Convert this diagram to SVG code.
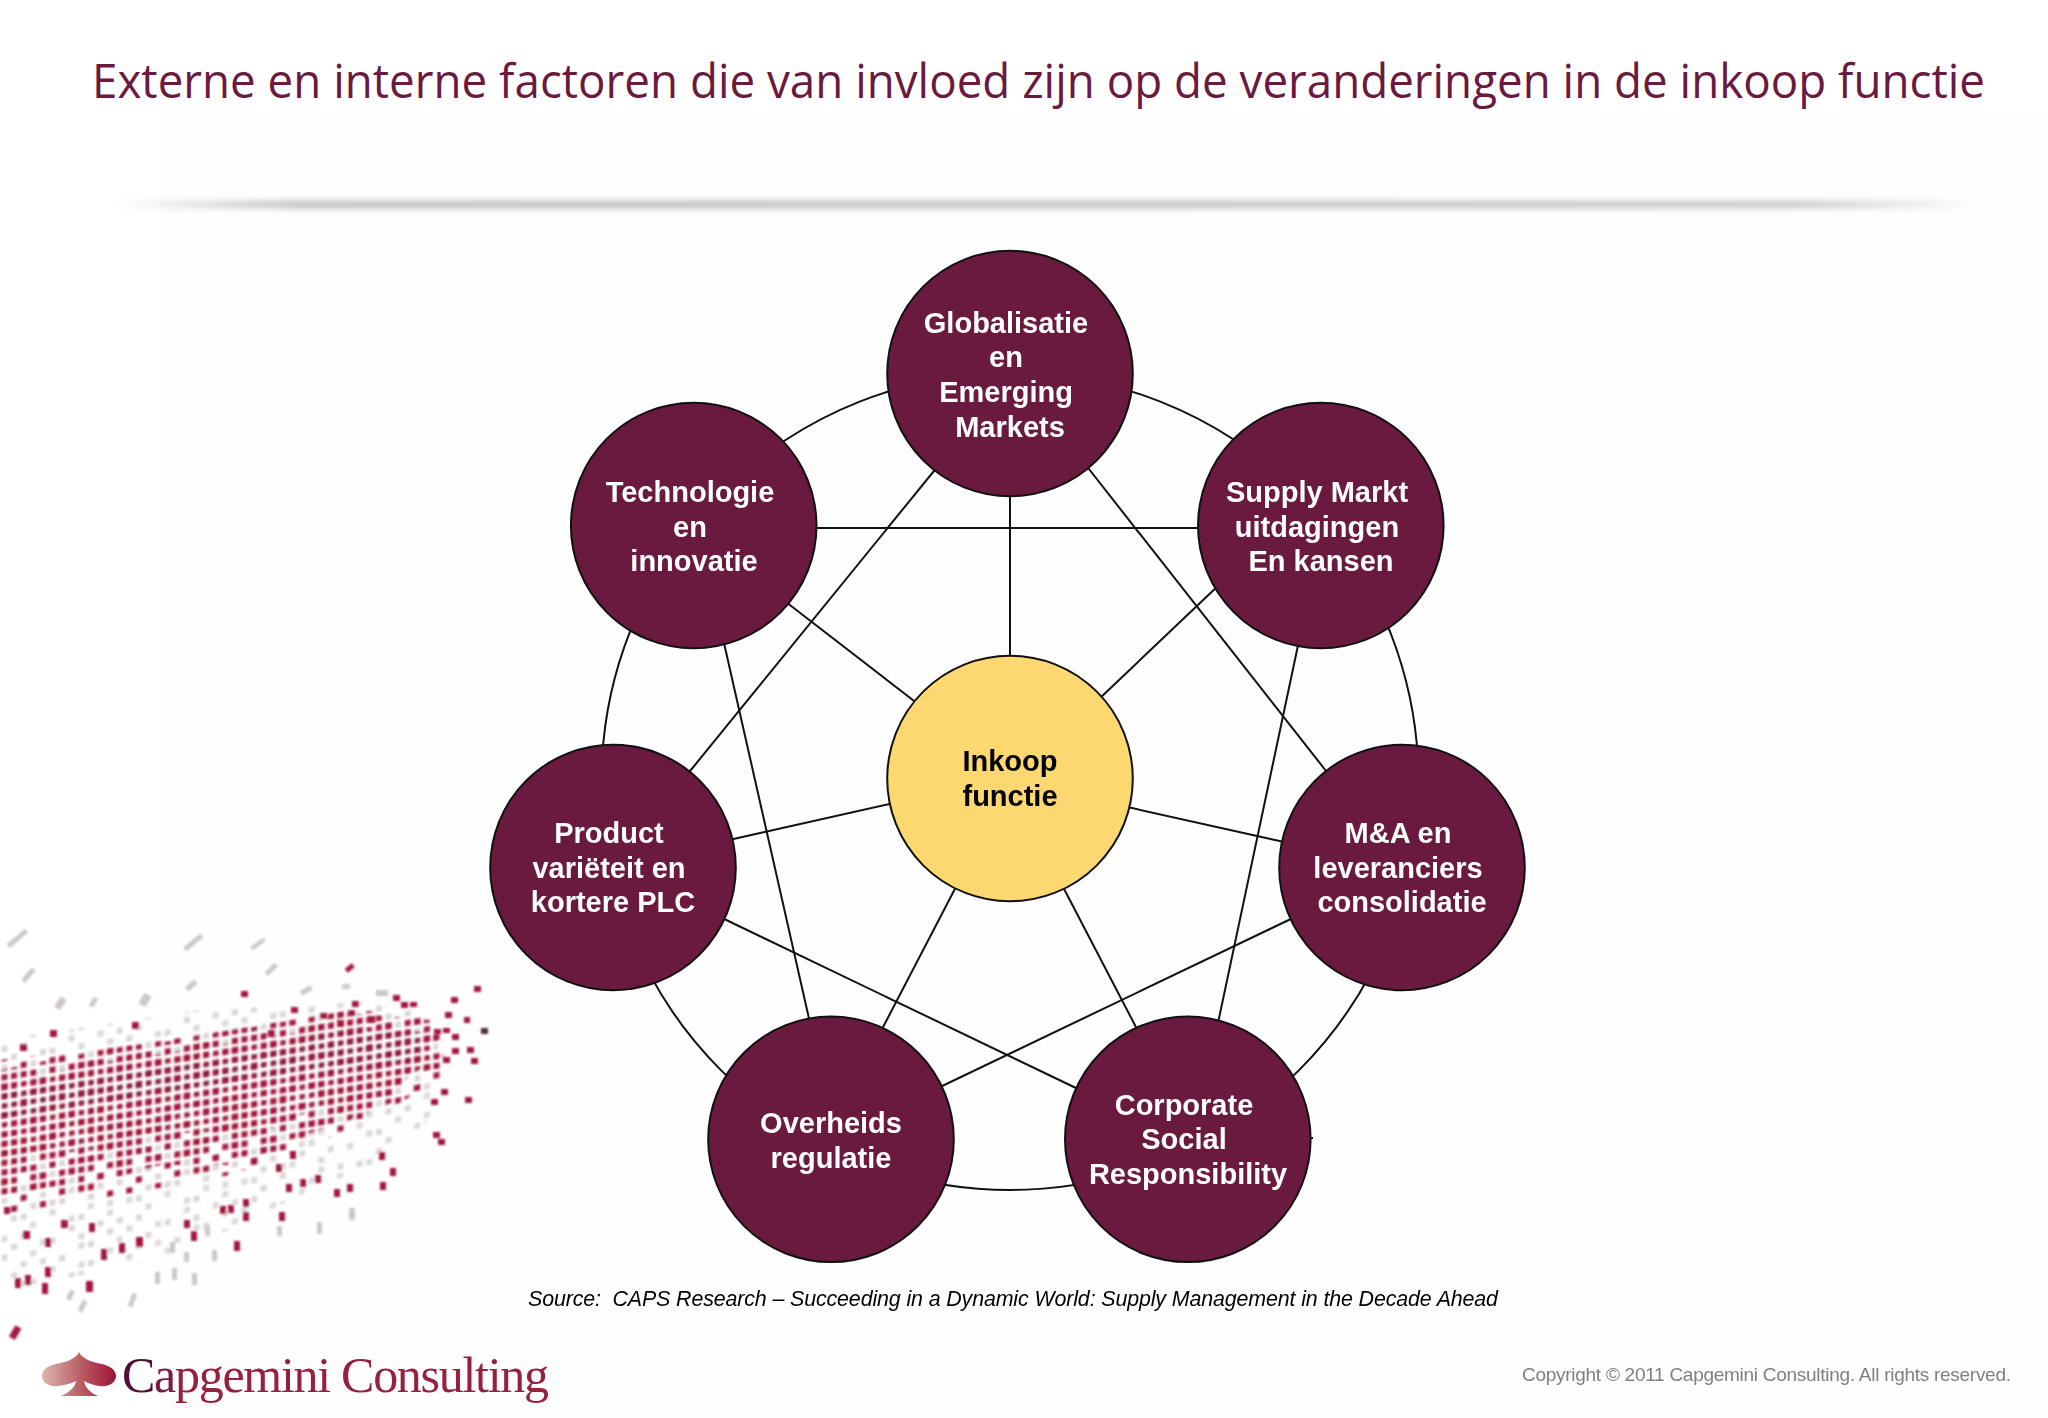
<svg xmlns="http://www.w3.org/2000/svg" width="2048" height="1418" viewBox="0 0 2048 1418">
<style>
.c{fill:#6a1a3e;stroke:#111;stroke-width:2}
.m{fill:#fdd76f;stroke:#111;stroke-width:2}
.n{font:bold 29px "Liberation Sans",Arial,sans-serif;fill:#fff;text-anchor:middle}
.k{fill:#000}
#conn line,#conn circle{stroke:#111;stroke-width:2;fill:none}
.r{fill:#a3183f}
.g{fill:#cdc8cb}
</style>
<defs>
<pattern id="pr" width="9.6" height="9.5" patternUnits="userSpaceOnUse" patternTransform="skewY(-9)"><rect x="1.8" y="1.8" width="5.6" height="5.4" rx="1" fill="#a3183f"/></pattern>
<pattern id="pd" width="9.6" height="9.5" patternUnits="userSpaceOnUse" patternTransform="skewY(-9)"><rect x="1.8" y="1.8" width="5.6" height="5.4" rx="1" fill="#4f2a52"/></pattern>
<pattern id="sr" width="115.2" height="95" patternUnits="userSpaceOnUse" patternTransform="skewY(-9)"><path fill="#a3183f" d="M11.1 1.5h6v6h-6zM39.9 1.5h6v6h-6zM49.5 1.5h6v6h-6zM87.9 1.5h6v6h-6zM1.5 11h6v6h-6zM30.3 11h6v6h-6zM68.7 11h6v6h-6zM97.5 11h6v6h-6zM20.7 20.5h6v6h-6zM49.5 20.5h6v6h-6zM59.1 20.5h6v6h-6zM107.1 20.5h6v6h-6zM11.1 30h6v6h-6zM78.3 30h6v6h-6zM87.9 30h6v6h-6zM30.3 39.5h6v6h-6zM39.9 39.5h6v6h-6zM68.7 39.5h6v6h-6zM107.1 39.5h6v6h-6zM1.5 49h6v6h-6zM49.5 49h6v6h-6zM97.5 49h6v6h-6zM20.7 58.5h6v6h-6zM59.1 58.5h6v6h-6zM78.3 58.5h6v6h-6zM87.9 58.5h6v6h-6zM11.1 68h6v6h-6zM39.9 68h6v6h-6zM107.1 68h6v6h-6zM30.3 77.5h6v6h-6zM68.7 77.5h6v6h-6zM97.5 77.5h6v6h-6zM1.5 87h6v6h-6zM49.5 87h6v6h-6zM59.1 87h6v6h-6zM87.9 87h6v6h-6z"/></pattern>
<pattern id="sr2" href="#sr" patternTransform="skewY(-9) translate(28.8 38)"/>
<pattern id="sr3" href="#sr" patternTransform="skewY(-9) translate(67.2 19)"/>
<pattern id="sg2" width="115.2" height="95" patternUnits="userSpaceOnUse" patternTransform="skewY(-9)"><path fill="#dcd7da" d="M1.5 1.5h6v6h-6zM20.7 1.5h6v6h-6zM68.7 1.5h6v6h-6zM97.5 1.5h6v6h-6zM11.1 11h6v6h-6zM39.9 11h6v6h-6zM49.5 11h6v6h-6zM78.3 11h6v6h-6zM107.1 11h6v6h-6zM1.5 20.5h6v6h-6zM30.3 20.5h6v6h-6zM78.3 20.5h6v6h-6zM87.9 20.5h6v6h-6zM20.7 30h6v6h-6zM39.9 30h6v6h-6zM59.1 30h6v6h-6zM107.1 30h6v6h-6zM11.1 39.5h6v6h-6zM49.5 39.5h6v6h-6zM78.3 39.5h6v6h-6zM87.9 39.5h6v6h-6zM20.7 49h6v6h-6zM30.3 49h6v6h-6zM68.7 49h6v6h-6zM78.3 49h6v6h-6zM1.5 58.5h6v6h-6zM39.9 58.5h6v6h-6zM68.7 58.5h6v6h-6zM97.5 58.5h6v6h-6zM30.3 68h6v6h-6zM49.5 68h6v6h-6zM59.1 68h6v6h-6zM87.9 68h6v6h-6zM11.1 77.5h6v6h-6zM20.7 77.5h6v6h-6zM49.5 77.5h6v6h-6zM87.9 77.5h6v6h-6zM107.1 77.5h6v6h-6zM30.3 87h6v6h-6zM68.7 87h6v6h-6zM78.3 87h6v6h-6zM107.1 87h6v6h-6z"/></pattern>
<filter id="blur" x="-5%" y="-5%" width="110%" height="110%"><feGaussianBlur stdDeviation="0.9"/></filter>
<filter id="sh" x="-5%" y="-500%" width="110%" height="1100%"><feGaussianBlur stdDeviation="3.5"/></filter>
<linearGradient id="sg" x1="0" x2="1" y1="0" y2="0"><stop offset="0" stop-color="#dcb4ae"/><stop offset=".55" stop-color="#b85a62"/><stop offset="1" stop-color="#9c1238"/></linearGradient>
<linearGradient id="dg" x1="0" x2="1" y1="0" y2="0"><stop offset="0" stop-color="#999" stop-opacity="0"/><stop offset=".1" stop-color="#999"/><stop offset=".9" stop-color="#aaa"/><stop offset="1" stop-color="#aaa" stop-opacity="0"/></linearGradient>
</defs>
<rect width="2048" height="1418" fill="#fff"/>
<rect x="160" y="110" width="1888" height="1308" fill="#fefefe"/>
<g id="title"><text x="92" y="98" textLength="1893" lengthAdjust="spacingAndGlyphs" font-family="'Open Sans','Noto Sans',sans-serif" font-size="47" fill="#6a1a3e">Externe en interne factoren die van invloed zijn op de veranderingen in de inkoop functie</text></g>
<rect id="divider" x="118" y="202" width="1860" height="5" fill="url(#dg)" filter="url(#sh)"/>
<g id="dots" filter="url(#blur)">
<polygon points="0,1040 200,1010 400,1000 440,1030 430,1120 370,1165 300,1195 230,1230 150,1260 60,1280 0,1290" fill="url(#sg2)"/>
<polygon points="0,1060 180,1040 350,1010 440,1015 445,1075 380,1115 300,1150 230,1175 120,1195 0,1215" fill="url(#sr)"/>
<polygon points="0,1070 100,1050 200,1035 340,1012 430,1020 445,1060 410,1095 350,1120 290,1140 270,1165 160,1165 90,1185 0,1195" fill="url(#sr2)"/>
<polygon points="0,1070 100,1050 200,1035 340,1012 430,1020 445,1060 410,1095 350,1120 290,1140 270,1165 160,1165 90,1185 0,1195" fill="url(#sr3)"/>
<polygon points="0,1083 96,1063 192,1049 346,1025 423,1032 435,1059 400,1083 346,1103 292,1117 269,1130 154,1134 96,1150 0,1158" fill="url(#pr)"/>
<polygon points="0,1092 120,1070 230,1060 345,1030 420,1035 420,1060 330,1072 230,1082 120,1098 0,1118" fill="url(#pd)" opacity=".3"/>
<g class="r">
<rect x="345" y="966" width="9" height="5" transform="rotate(-40 349 968)"/><rect x="241" y="991" width="7" height="6"/><rect x="474" y="986" width="7" height="6"/><rect x="451" y="997" width="7" height="6"/><rect x="393" y="995" width="7" height="6"/><rect x="401" y="1002" width="7" height="6"/><rect x="410" y="1002" width="7" height="5"/><rect x="352" y="1001" width="7" height="6"/><rect x="291" y="1007" width="7" height="6"/><rect x="348" y="1010" width="7" height="6"/><rect x="320" y="1013" width="7" height="6"/><rect x="445" y="1012" width="7" height="6"/><rect x="464" y="1017" width="6" height="6"/><rect x="434" y="1029" width="7" height="5"/><rect x="443" y="1028" width="7" height="5"/><rect x="452" y="1034" width="7" height="6"/><rect x="467" y="1047" width="7" height="6"/><rect x="452" y="1048" width="7" height="6"/><rect x="471" y="1058" width="7" height="6"/><rect x="443" y="1057" width="7" height="6"/><rect x="441" y="1089" width="7" height="6"/><rect x="431" y="1099" width="7" height="6"/><rect x="465" y="1097" width="7" height="6"/><rect x="433" y="1132" width="7" height="6"/><rect x="438" y="1139" width="7" height="6"/><rect x="379" y="1152" width="6" height="8"/><rect x="390" y="1168" width="6" height="8"/><rect x="380" y="1182" width="6" height="8"/><rect x="347" y="1184" width="6" height="8"/><rect x="334" y="1189" width="6" height="8"/><rect x="315" y="1175" width="6" height="8"/><rect x="300" y="1179" width="6" height="8"/><rect x="286" y="1184" width="6" height="8"/><rect x="290" y="1151" width="6" height="8"/><rect x="276" y="1164" width="6" height="8"/><rect x="279" y="1212" width="6" height="9"/><rect x="243" y="1199" width="6" height="8"/><rect x="243" y="1212" width="6" height="9"/><rect x="228" y="1205" width="6" height="8"/><rect x="220" y="1206" width="6" height="8"/><rect x="234" y="1241" width="6" height="10"/><rect x="191" y="1231" width="6" height="10"/><rect x="184" y="1220" width="6" height="8"/><rect x="136" y="1237" width="7" height="10"/><rect x="119" y="1243" width="6" height="10"/><rect x="101" y="1249" width="6" height="11"/><rect x="89" y="1223" width="6" height="9"/><rect x="61" y="1220" width="7" height="8"/><rect x="45" y="1238" width="6" height="9"/><rect x="23" y="1231" width="7" height="8"/><rect x="45" y="1267" width="6" height="10"/><rect x="42" y="1283" width="6" height="11"/><rect x="86" y="1281" width="7" height="11"/><rect x="25" y="1275" width="6" height="10"/><rect x="15" y="1278" width="6" height="10"/><rect x="12" y="1326" width="7" height="13" transform="rotate(30 15 1332)"/><rect x="4" y="1207" width="6" height="7"/><rect x="50" y="1030" width="7" height="7"/><rect x="132" y="1022" width="7" height="7"/><rect x="20" y="1044" width="7" height="7"/><rect x="268" y="1030" width="7" height="7"/><rect x="337" y="1020" width="7" height="7"/><rect x="368" y="1016" width="7" height="7"/>
<rect x="481" y="1028" width="7" height="6" fill="#4f2a42"/>
</g>
<g class="g">
<rect x="5" y="936" width="24" height="5" transform="rotate(-40 17 938)"/><rect x="182" y="940" width="22" height="5" transform="rotate(-40 193 942)"/><rect x="250" y="942" width="16" height="4" transform="rotate(-35 258 944)"/><rect x="264" y="967" width="14" height="5" transform="rotate(-45 271 969)"/><rect x="20" y="973" width="16" height="5" transform="rotate(-50 28 975)"/><rect x="185" y="983" width="12" height="5" transform="rotate(-40 191 985)"/><rect x="300" y="988" width="12" height="5" transform="rotate(-30 306 990)"/><rect x="54" y="1000" width="12" height="7" transform="rotate(-55 60 1003)"/><rect x="88" y="1000" width="10" height="5" transform="rotate(-60 93 1002)"/><rect x="139" y="996" width="12" height="8" transform="rotate(-60 145 1000)"/><rect x="376" y="990" width="12" height="6"/><rect x="342" y="984" width="8" height="5"/><rect x="349" y="1208" width="6" height="12"/><rect x="317" y="1222" width="5" height="12"/><rect x="277" y="1226" width="5" height="10"/><rect x="205" y="1226" width="5" height="10"/><rect x="170" y="1242" width="5" height="11"/><rect x="212" y="1250" width="5" height="11"/><rect x="184" y="1252" width="5" height="10"/><rect x="155" y="1272" width="5" height="12"/><rect x="172" y="1268" width="5" height="12"/><rect x="192" y="1273" width="5" height="12"/><rect x="130" y="1293" width="5" height="14" transform="rotate(20 132 1300)"/><rect x="80" y="1300" width="5" height="12" transform="rotate(25 82 1306)"/><rect x="68" y="1290" width="5" height="10" transform="rotate(25 70 1295)"/>
</g>
</g>
<g id="logo">
<path transform="translate(0 -7)" d="M79 1359C76 1366 66 1369 56 1371C46 1373 42 1378 42 1383C42 1390 50 1394 58 1393C66 1392 72 1390 76 1388C75 1395 68 1400 61 1403L98 1403C91 1400 85 1395 84 1388C90 1391 98 1394 105 1393C112 1392 116 1388 116 1383C116 1377 110 1373 102 1371C92 1369 82 1366 79 1359Z" fill="url(#sg)"/>
<text x="122" y="1392" textLength="427" lengthAdjust="spacing" font-family="'Liberation Serif','Times New Roman',serif" font-size="50" fill="#97203f"><tspan fill="#4f0f38">C</tspan><tspan fill="#7a1a40">a</tspan>pgemini Consulting</text>
</g>
<g id="conn">
<circle cx="1010" cy="781.5" r="408.5"/>
<line x1="1010" y1="488" x2="1010" y2="667"/>
<line x1="786" y1="528" x2="1234" y2="528"/>
<line x1="938" y1="466" x2="686" y2="776"/>
<line x1="1085" y1="464" x2="1330" y2="776"/>
<line x1="786" y1="602" x2="918" y2="704"/>
<line x1="1220" y1="584" x2="1098" y2="700"/>
<line x1="729" y1="840" x2="894" y2="803"/>
<line x1="1284" y1="842" x2="1125" y2="806.5"/>
<line x1="881" y1="1031" x2="958" y2="883"/>
<line x1="1138" y1="1031" x2="1062" y2="885"/>
<line x1="724" y1="643" x2="810" y2="1023"/>
<line x1="1298.5" y1="643" x2="1218" y2="1023"/>
<line x1="720" y1="917" x2="1078" y2="1089"/>
<line x1="1295" y1="917" x2="938" y2="1088"/>
<line x1="1310" y1="1138" x2="1313" y2="1138"/>
</g>
<g id="n-global"><circle class="c" cx="1010" cy="373.5" r="122.8"/><text class="n"><tspan x="1006" y="332.5">Globalisatie</tspan><tspan x="1006" y="367.2">en</tspan><tspan x="1006" y="402">Emerging</tspan><tspan x="1010" y="436.5">Markets</tspan></text></g>
<g id="n-tech"><circle class="c" cx="693.7" cy="525.5" r="122.8"/><text class="n"><tspan x="690" y="502">Technologie</tspan><tspan x="690" y="536.7">en</tspan><tspan x="694" y="571.4">innovatie</tspan></text></g>
<g id="n-supply"><circle class="c" cx="1320.8" cy="525.5" r="122.8"/><text class="n"><tspan x="1317" y="502">Supply Markt</tspan><tspan x="1317" y="536.7">uitdagingen</tspan><tspan x="1321" y="571.4">En kansen</tspan></text></g>
<g id="n-product"><circle class="c" cx="613" cy="867.5" r="122.8"/><text class="n"><tspan x="609" y="842.8">Product</tspan><tspan x="609" y="877.5">variëteit en</tspan><tspan x="613" y="912.2">kortere PLC</tspan></text></g>
<g id="n-ma"><circle class="c" cx="1402" cy="867.5" r="122.8"/><text class="n"><tspan x="1398" y="842.8">M&amp;A en</tspan><tspan x="1398" y="877.5">leveranciers</tspan><tspan x="1402" y="912.2">consolidatie</tspan></text></g>
<g id="n-over"><circle class="c" cx="831" cy="1139.3" r="122.8"/><text class="n"><tspan x="831" y="1133">Overheids</tspan><tspan x="831" y="1167.7">regulatie</tspan></text></g>
<g id="n-csr"><circle class="c" cx="1187.8" cy="1139.3" r="122.8"/><text class="n"><tspan x="1184" y="1114.5">Corporate</tspan><tspan x="1184" y="1149.2">Social</tspan><tspan x="1188" y="1183.9">Responsibility</tspan></text></g>
<g id="n-center"><circle class="m" cx="1010" cy="778.5" r="122.8"/><text class="n k"><tspan x="1010" y="770.8">Inkoop</tspan><tspan x="1010" y="805.5">functie</tspan></text></g>
<text id="source" x="528" y="1306" textLength="970" font-family="'Liberation Sans',Arial,sans-serif" font-style="italic" font-size="21.4" fill="#000" style="white-space:pre">Source:  CAPS Research – Succeeding in a Dynamic World: Supply Management in the Decade Ahead</text>
<text id="copyright" x="1522" y="1381" textLength="489" font-family="'Liberation Sans',Arial,sans-serif" font-size="19" fill="#808084">Copyright © 2011 Capgemini Consulting. All rights reserved.</text>
</svg>
